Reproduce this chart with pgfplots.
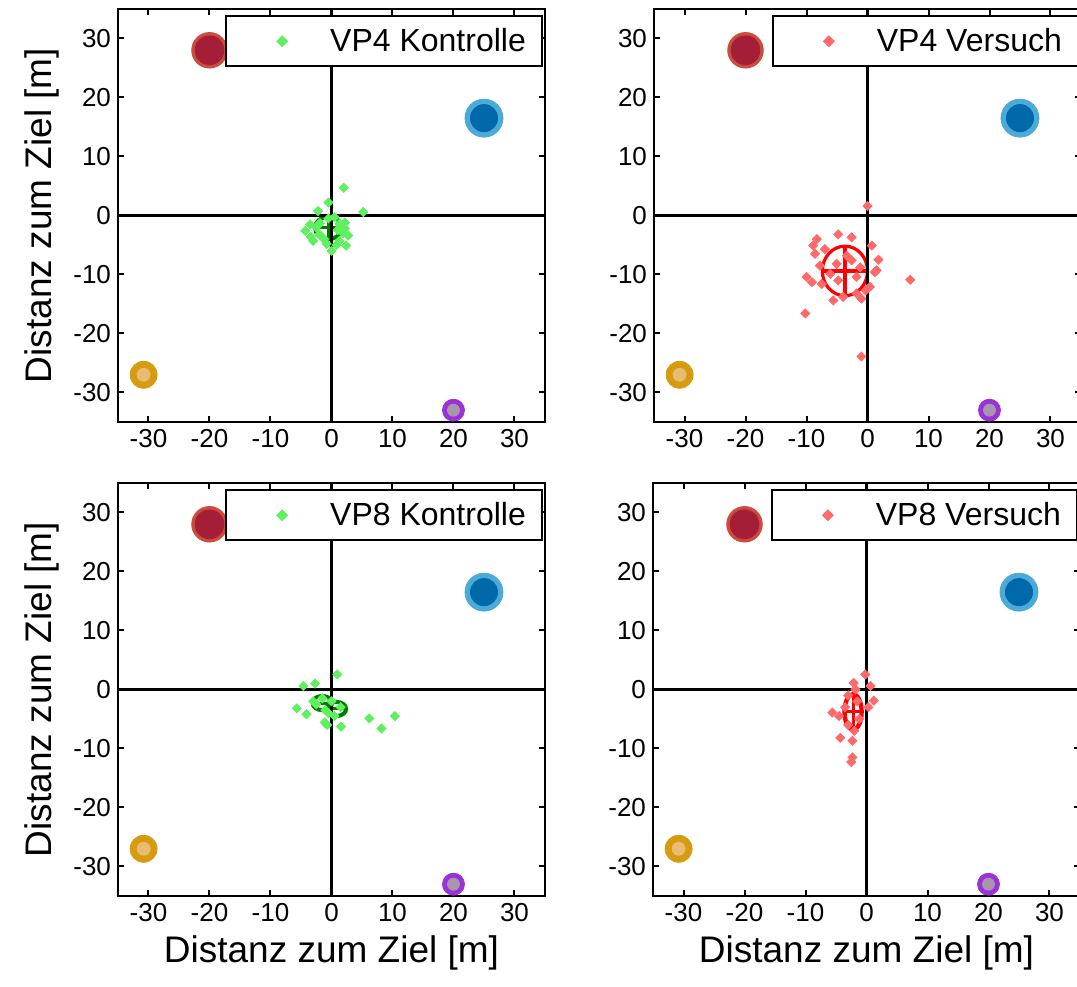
\documentclass[border=0pt]{standalone}
\usepackage{fontspec}
\setmainfont{Liberation Sans}
\usepackage{pgfplots}
\pgfplotsset{compat=1.18}
\definecolor{redo}{RGB}{205,75,60}
\definecolor{redi}{RGB}{165,30,55}
\definecolor{blueo}{RGB}{75,170,215}
\definecolor{bluei}{RGB}{0,105,170}
\definecolor{orao}{RGB}{215,155,15}
\definecolor{orai}{RGB}{232,188,115}
\definecolor{puro}{RGB}{155,50,215}
\definecolor{puri}{RGB}{168,150,172}
\definecolor{ptgreen}{RGB}{95,240,95}
\definecolor{elgreen}{RGB}{0,125,0}
\definecolor{ptred}{RGB}{255,105,105}
\definecolor{elred}{RGB}{255,0,0}
\pgfplotsset{
  myax/.style={
    width=213.5pt, height=206.5pt, scale only axis,
    xmin=-35, xmax=35, ymin=-35, ymax=35,
    xtick={-30,-20,...,30}, ytick={-30,-20,...,30},
    tick align=inside, major tick length=3pt,
    axis line style={line width=1pt},
    tick style={line width=1pt, black},
    tick label style={font=\fontsize{13}{15}\selectfont},
    label style={font=\fontsize{18.5}{20}\selectfont},
    /pgf/number format/assume math mode=true,
    legend style={at={(0.995,0.985)}, anchor=north east, draw=black, line width=1pt,
      font=\fontsize{16}{18}\selectfont, inner xsep=0pt, inner ysep=4pt},
    legend image code/.code={\path[draw=none,fill=none] (0pt,0pt) -- (50pt,0pt); \path[#1, draw=none] plot coordinates {(28pt,0pt)};},
  },
  lmk/.style={only marks, mark=*, forget plot},
}
\newcommand{\landmarks}{%
  \addplot[lmk, mark size=8.9pt, mark options={fill=redo, draw=redo}] coordinates {(-20,28)};
  \addplot[lmk, mark size=7.2pt, mark options={fill=redi, draw=redi}] coordinates {(-20,28)};
  \addplot[lmk, mark size=9.5pt, mark options={fill=blueo, draw=blueo}] coordinates {(25,16.5)};
  \addplot[lmk, mark size=6.8pt, mark options={fill=bluei, draw=bluei}] coordinates {(25,16.5)};
  \addplot[lmk, mark size=6.75pt, mark options={fill=orao, draw=orao}] coordinates {(-30.8,-27)};
  \addplot[lmk, mark size=3.25pt, mark options={fill=orai, draw=orai}] coordinates {(-30.8,-27)};
  \addplot[lmk, mark size=5.5pt, mark options={fill=puro, draw=puro}] coordinates {(20,-33)};
  \addplot[lmk, mark size=3pt, mark options={fill=puri, draw=puri}] coordinates {(20,-33)};
}
\newcommand{\zerolines}{%
  \addplot[black, line width=1.9pt, forget plot] coordinates {(-35,0) (35,0)};
  \addplot[black, line width=1.9pt, forget plot] coordinates {(0,-35) (0,35)};
}
\newcommand{\pad}{\rule{6pt}{0pt}}
\begin{document}
\begin{tikzpicture}
\begin{scope}
\clip (0,0) rectangle (538.5pt,493pt);
% ---------------- top left
\begin{axis}[myax, at={(59pt,488.5pt)}, anchor=north west, ylabel={Distanz zum Ziel [m]}]
\landmarks
\addplot[only marks, mark=square*, mark size=1.6pt, mark options={rotate=45, fill=ptgreen, draw=ptgreen}]
 coordinates {(2,4.7) (5.2,0.6) (-0.5,2.2) (-2.2,0.75) (-4.3,-2.6) (-3.0,-4.3) (-3.4,-3.6) (2.4,-5.1)
 (0,-6.0) (-1.9,-1.3) (1.3,-1.4) (1.9,-3.0) (1.3,-4.3) (-1.2,-4.0) (-0.5,-0.5) (0.5,-0.3) (-2.5,-2.0)
 (2.2,-2.2) (-0.8,-4.8) (0.8,-5.0) (-2.0,-3.2) (1.0,-2.5) (2.75,-3.4) (2.2,-1.2) (-3.5,-1.5)};
\addlegendentry{VP4 Kontrolle\pad}
\draw[elgreen, line width=2pt] (axis cs:-0.5,-2.1) ellipse [x radius=2.2, y radius=1.9];
\addplot[elgreen, line width=1.5pt, forget plot] coordinates {(-2.7,-2.1) (1.7,-2.1)};
\addplot[elgreen, line width=1.5pt, forget plot] coordinates {(-0.5,-4.0) (-0.5,-0.2)};
\zerolines
\end{axis}
% ---------------- top right
\begin{axis}[myax, at={(327pt,488.5pt)}, anchor=north west]
\landmarks
\addplot[only marks, mark=square*, mark size=1.6pt, mark options={rotate=45, fill=ptred, draw=ptred}]
 coordinates {(0,1.6) (-8.3,-4.0) (-8.9,-5.1) (-8.6,-6.5) (-4.8,-3.2) (-2.6,-3.7) (-7.0,-5.7) (0.7,-5.1)
 (1.8,-7.5) (1.5,-9.3) (-10.0,-10.4) (-9.1,-11.3) (-7.5,-11.6) (7.0,-10.9) (0.4,-12.1) (-5.6,-14.4)
 (-1.0,-14.1) (-1.8,-13.2) (-4.0,-13.8) (-10.2,-16.6) (-1.0,-23.9) (-5.05,-8.2) (-2.6,-7.6) (-1.8,-10.4)
 (-4.8,-11.0) (-6.1,-9.9) (-3.4,-6.8) (-1.2,-8.8) (-7.8,-8.5) (-0.3,-12.7) (1.2,-9.6)};
\addlegendentry{VP4 Versuch\pad}
\draw[elred, line width=1.6pt] (axis cs:-3.7,-9.4) ellipse [x radius=3.7, y radius=4.2];
\addplot[elred, line width=1.6pt, forget plot] coordinates {(-7.4,-9.4) (0,-9.4)};
\addplot[elred, line width=1.6pt, forget plot] coordinates {(-3.7,-13.6) (-3.7,-5.2)};
\zerolines
\end{axis}
% ---------------- bottom left
\begin{axis}[myax, at={(59pt,251.5pt)}, anchor=north west, ylabel={Distanz zum Ziel [m]}, xlabel={Distanz zum Ziel [m]}]
\landmarks
\addplot[only marks, mark=square*, mark size=1.6pt, mark options={rotate=45, fill=ptgreen, draw=ptgreen}]
 coordinates {(0.96,2.55) (-4.6,0.6) (-2.7,1.0) (-5.7,-3.2) (-4.1,-4.2) (-1.1,-5.6) (1.56,-6.3) (6.2,-4.9)
 (8.2,-6.6) (10.4,-4.5) (-1.5,-1.5) (-2.5,-2.5) (0,-2.0) (1.5,-3.0) (-0.5,-4.0) (-3,-2) (-1,-3.5) (0.5,-4.5) (-0.7,-6.0)};
\addlegendentry{VP8 Kontrolle\pad}
\draw[elgreen, line width=2pt] (axis cs:-1.5,-2.3) ellipse [x radius=1.6, y radius=1.2];
\draw[elgreen, line width=2pt] (axis cs:0.8,-3.3) ellipse [x radius=1.6, y radius=1.2];
\addplot[elgreen, line width=1.5pt, forget plot] coordinates {(-3.1,-2.3) (0.1,-2.3)};
\addplot[elgreen, line width=1.5pt, forget plot] coordinates {(-0.8,-3.3) (2.4,-3.3)};
\zerolines
\end{axis}
% ---------------- bottom right
\begin{axis}[myax, at={(326.5pt,251.5pt)}, anchor=north west, xlabel={Distanz zum Ziel [m]}]
\landmarks
\addplot[only marks, mark=square*, mark size=1.6pt, mark options={rotate=45, fill=ptred, draw=ptred}]
 coordinates {(-0.2,2.55) (-2.1,1.1) (0.66,0.6) (1.2,-1.9) (-5.6,-3.9) (-4.5,-4.5) (-4.3,-8.2) (-2.3,-8.7)
 (-2.3,-11.5) (-2.5,-12.3) (-3,-1) (-1.5,-2) (-3.5,-3) (-1.2,-5) (-3,-6) (-2,-7) (0.3,-3) (-1.8,0)};
\addlegendentry{VP8 Versuch\pad}
\draw[elred, line width=2.2pt] (axis cs:-2.2,-3.8) ellipse [x radius=1.4, y radius=3.0];
\addplot[elred, line width=1.5pt, forget plot] coordinates {(-3.6,-3.8) (-0.8,-3.8)};
\addplot[elred, line width=1.5pt, forget plot] coordinates {(-2.2,-6.8) (-2.2,-0.8)};
\zerolines
\end{axis}
\end{scope}
\pgfresetboundingbox
\useasboundingbox (0,0) rectangle (538.5pt,493pt);
\end{tikzpicture}
\end{document}
